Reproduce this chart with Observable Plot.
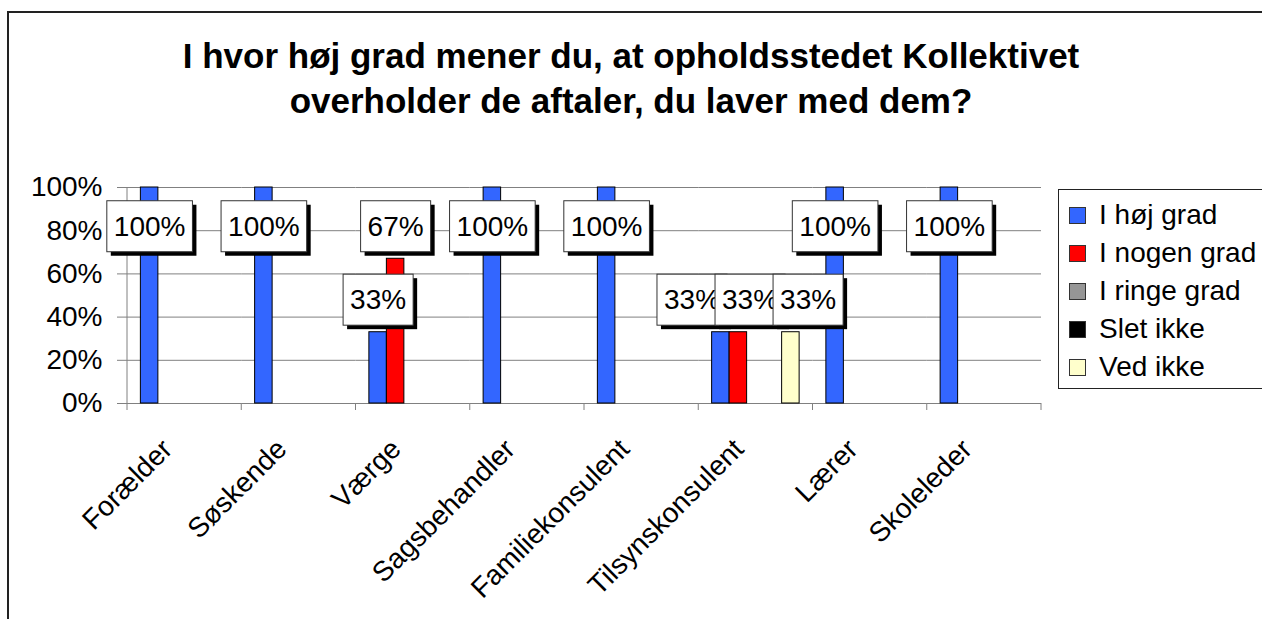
<!DOCTYPE html>
<html><head><meta charset="utf-8">
<script src="https://cdn.jsdelivr.net/npm/d3@7"></script>
<script src="https://cdn.jsdelivr.net/npm/@observablehq/plot@0.6"></script>
<style>
html,body{margin:0;padding:0;background:#fff;overflow:hidden;}
#wrap{position:relative;width:1262px;height:619px;overflow:hidden;font-family:"Liberation Sans",Arial,sans-serif;background:#fff;}
#frame{position:absolute;left:7px;top:11px;width:1300px;height:700px;border:2px solid #222;box-sizing:border-box;}
#title{position:absolute;left:0;top:33px;width:1262px;text-align:center;font-weight:bold;font-size:35px;line-height:45px;color:#000;}
#chart{position:absolute;left:0;top:0;}
#legend{position:absolute;left:1058px;top:189px;width:230px;height:200px;border:1px solid #222;background:#fff;box-sizing:border-box;}
.item{position:absolute;left:10px;height:38px;display:flex;align-items:center;font-size:28px;white-space:nowrap;color:#000;}
.sw{width:15px;height:15px;border:1px solid #333;margin-right:13px;flex:none;}
</style>
</head><body>
<div id="wrap">
  <div id="frame"></div>
  <div id="chart"></div>
  <div id="title">I hvor høj grad mener du, at opholdsstedet Kollektivet<br>overholder de aftaler, du laver med dem?</div>
  <div id="legend"></div>
</div>
<script>
const categories = ["Forælder","Søskende","Værge","Sagsbehandler","Familiekonsulent","Tilsynskonsulent","Lærer","Skoleleder"];
const series = ["I høj grad","I nogen grad","I ringe grad","Slet ikke","Ved ikke"];
const colors = ["#3366FF","#FF0000","#969696","#000000","#FFFFCC"];
const hoejGrad  = [100,100,33,100,100,33,100,100];
const nogenGrad = [0,0,67,0,0,33,0,0];
const ringeGrad = [0,0,0,0,0,0,0,0];
const sletIkke  = [0,0,0,0,0,0,0,0];
const vedIkke   = [0,0,0,0,0,33,0,0];
const yTicks = [0,20,40,60,80,100];

const seriesValues = [hoejGrad, nogenGrad, ringeGrad, sletIkke, vedIkke];
const rows = [];
categories.forEach((c, i) => series.forEach((s, j) => {
  const v = seriesValues[j][i];
  if (v > 0) rows.push({category: c, series: s, value: v});
}));

// legend (HTML)
const leg = document.getElementById("legend");
series.forEach((s, i) => {
  const it = document.createElement("div");
  it.className = "item";
  it.style.top = (6 + i * 38) + "px";
  const sw = document.createElement("span");
  sw.className = "sw"; sw.style.background = colors[i];
  it.appendChild(sw);
  it.appendChild(document.createTextNode(s));
  leg.appendChild(it);
});

const chart = Plot.plot({
  width: 1262, height: 619,
  marginTop: 187, marginBottom: 216, marginLeft: 127, marginRight: 221,
  style: {fontFamily: '"Liberation Sans", Arial, sans-serif', fontSize: "28px", color: "#000", background: "transparent", overflow: "visible"},
  fx: {domain: categories, paddingInner: 0, paddingOuter: 0, round: false, label: null, axis: "bottom", tickRotate: -45, tickSize: 0, tickPadding: 14},
  x: {domain: series, paddingInner: 0, paddingOuter: 0.764, round: false, axis: null},
  y: {domain: [0, 100], ticks: yTicks, tickFormat: d => d + "%", tickSize: 10, tickPadding: 15, label: null},
  color: {domain: series, range: colors},
  marks: [
    Plot.ruleY(yTicks, {stroke: "#808080", strokeWidth: 1}),
    Plot.barY(rows, {fx: "category", x: "series", y: "value", fill: "series", stroke: "#000", strokeWidth: 1}),
    Plot.text(rows, {fx: "category", x: "series", y: d => Math.min(d.value, 67), dy: -32, text: d => d.value + "%", fill: "#000", fontSize: 28})
  ]
});
document.getElementById("chart").appendChild(chart);

const svgNS = "http://www.w3.org/2000/svg";
try {
  chart.querySelectorAll('[aria-label="y-axis tick"]').forEach(g => { g.setAttribute("stroke", "#808080"); g.querySelectorAll("path").forEach(p => p.setAttribute("stroke", "#808080")); });
  chart.querySelectorAll('[aria-label="fx-axis tick label"]').forEach(g => {
    const tr = g.getAttribute("transform") || "";
    g.setAttribute("transform", "translate(-17,27) " + tr);
  });
} catch (e) { console.log(e); }

// axis line and category boundary ticks, from the plot's scales
const fx = chart.scale("fx"), ys = chart.scale("y");
const y0 = ys.apply(0), y100 = ys.apply(100);
const axisG = document.createElementNS(svgNS, "g");
axisG.setAttribute("stroke", "#808080");
axisG.setAttribute("stroke-width", "1");
const xs = categories.map(c => fx.apply(c));
xs.push(fx.apply(categories[categories.length - 1]) + fx.bandwidth);
xs.forEach((x, i) => {
  const l = document.createElementNS(svgNS, "line");
  l.setAttribute("x1", x); l.setAttribute("x2", x);
  l.setAttribute("y1", i === 0 ? y100 : y0); l.setAttribute("y2", y0 + 7);
  axisG.appendChild(l);
});
chart.appendChild(axisG);

// data label boxes: spread colliding labels (per facet), draw boxes with shadow, put on top
chart.querySelectorAll('g[aria-label="text"]').forEach(g => {
  const parent = g.parentNode;
  const m = parent.getCTM ? parent.getCTM() : null;
  const groups = new Map();
  Array.from(g.querySelectorAll("text")).forEach(t => {
    const b = t.getBBox();
    const c = t.transform && t.transform.baseVal ? t.transform.baseVal.consolidate() : null;
    const e = c ? c.matrix.e : 0, f = c ? c.matrix.f : 0;
    const cx = b.x + b.width / 2 + e;
    const item = {t, b, tr: t.getAttribute("transform") || "", cx, cx0: cx, cy: b.y + b.height / 2 + f};
    const key = t.parentNode;
    if (!groups.has(key)) groups.set(key, []);
    groups.get(key).push(item);
  });
  groups.forEach(items => {
    for (let it = 0; it < 200; it++) {
      items.sort((a, b) => a.cx - b.cx);
      let moved = false;
      for (let i = 0; i < items.length - 1; i++) {
        const a = items[i], c = items[i + 1];
        if (Math.abs(a.cy - c.cy) > 20) continue;
        const need = (a.b.width + c.b.width) / 2 + 2;
        const d = c.cx - a.cx;
        if (d < need - 0.01) { const s = (need - d) / 2; a.cx -= s; c.cx += s; moved = true; }
      }
      if (!moved) break;
    }
    items.sort((a, b) => a.cx0 - b.cx0);
    items.forEach(({t, b, tr, cx, cx0}) => {
      const shift = cx - cx0;
      const T = `translate(${shift},0) ${tr}`;
      t.setAttribute("transform", T);
      const padX = 7, padY = 10;
      const mk = (off, fill, stroke) => {
        const r = document.createElementNS(svgNS, "rect");
        r.setAttribute("x", b.x - padX + off); r.setAttribute("y", b.y - padY + off);
        r.setAttribute("width", b.width + 2 * padX); r.setAttribute("height", b.height + 2 * padY);
        r.setAttribute("fill", fill); r.setAttribute("stroke", stroke);
        r.setAttribute("stroke-width", "1");
        r.setAttribute("transform", T);
        return r;
      };
      const p = t.parentNode;
      p.appendChild(mk(4, "#000", "none"));
      p.appendChild(mk(0, "#fff", "#333"));
      p.appendChild(t);
    });
  });
  const w = document.createElementNS(svgNS, "g");
  if (m) w.setAttribute("transform", `matrix(${m.a},${m.b},${m.c},${m.d},${m.e},${m.f})`);
  chart.appendChild(w);
  w.appendChild(g);
});
</script>
</body></html>
